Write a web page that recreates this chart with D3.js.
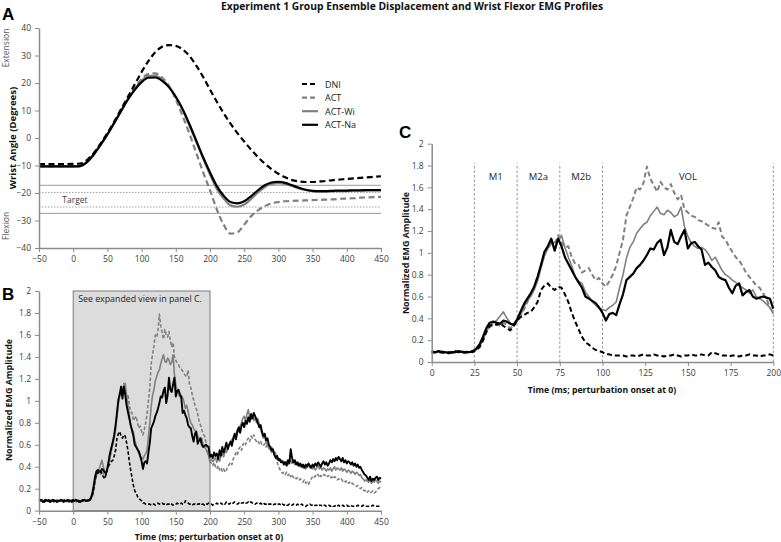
<!DOCTYPE html>
<html><head><meta charset="utf-8">
<script src="https://cdn.jsdelivr.net/npm/d3@7"></script>
<style>body{margin:0;background:#fff} svg{display:block} text{font-family:'Open Sans',sans-serif}</style>
</head><body><svg id="c" width="781" height="542"></svg>
<script>
// ---------- DATA ----------
const seriesNames = ["DNI", "ACT", "ACT-Wi", "ACT-Na"];

// Panel A: wrist angle (deg), sampled every 10 ms from -50 to 450
const angleTime = d3.range(-50, 451, 10);
const angleDNI = [-9.5,-9.5,-9.5,-9.5,-9.5,-9.4,-9.3,-8.0,-5.5,-2.0,
  1.8,6.0,10.5,15.0,19.5,24.0,28.0,31.2,33.2,33.8,
  33.5,32.2,29.8,26.3,22.2,17.6,13.2,9.0,5.2,1.8,
  -1.3,-4.2,-6.9,-9.3,-11.3,-13.0,-14.3,-15.3,-15.8,-16.0,
  -16.0,-15.8,-15.6,-15.3,-15.1,-14.9,-14.7,-14.5,-14.3,-14.1,-13.9];
const angleACT = [-10.3,-10.3,-10.3,-10.3,-10.3,-10.3,-10.2,-8.8,-6.0,-2.5,
  1.3,5.6,10.0,14.3,18.2,21.5,23.3,23.5,22.0,19.0,
  14.0,8.0,1.5,-5.5,-12.5,-19.0,-26.0,-31.5,-34.8,-34.3,
  -31.5,-28.5,-26.3,-24.8,-23.8,-23.3,-23.0,-22.9,-22.8,-22.7,
  -22.6,-22.5,-22.4,-22.3,-22.1,-22.0,-21.9,-21.7,-21.6,-21.5,-21.4];
const angleACTWi = [-10.3,-10.3,-10.3,-10.3,-10.3,-10.3,-10.2,-8.8,-6.0,-2.5,
  1.3,5.5,9.8,14.0,17.7,20.8,22.6,22.7,21.2,18.6,
  14.8,10.2,4.5,-1.5,-7.5,-13.3,-18.5,-22.0,-24.5,-25.0,
  -24.2,-22.2,-19.8,-17.8,-16.7,-16.4,-16.7,-17.4,-18.3,-18.9,
  -19.3,-19.5,-19.5,-19.4,-19.3,-19.3,-19.2,-19.2,-19.1,-19.1,-19.1];
const angleACTNa = [-10.3,-10.3,-10.3,-10.3,-10.3,-10.3,-10.2,-8.8,-6.0,-2.5,
  1.3,5.5,9.8,14.0,17.5,20.3,21.9,22.0,20.8,18.5,
  15.0,10.5,5.0,-1.0,-7.0,-12.5,-17.5,-21.0,-23.3,-23.8,
  -23.0,-21.2,-19.0,-17.2,-16.2,-15.9,-16.3,-17.2,-18.1,-18.8,
  -19.2,-19.3,-19.3,-19.2,-19.1,-19.1,-19.0,-19.0,-18.9,-18.9,-18.9];
const targetOuter = [-17.2, -27.4];
const targetInner = [-19.8, -25.1];
const angleTicksX = d3.range(-50, 451, 50);
const angleTicksY = d3.range(-40, 41, 10);

// Panels B & C: normalized EMG, sampled every 2 ms from -50 to 450
const emgTime = d3.range(-50, 451, 2);
const emgDNI = [
 .09,.09,.10,.09,.08,.09,.09,.10,.09,.09,
 .08,.09,.09,.10,.09,.09,.08,.09,.09,.10,
 .09,.09,.08,.09,.09,.10,.09,.09,.09,.08,
 .09,.09,.10,.09,.09,.09,.10,.09,.11,.14,
 .20,.28,.33,.35,.34,.36,.33,.31,.29,.33,
 .38,.41,.43,.45,.46,.50,.55,.66,.70,.72,
 .68,.66,.69,.68,.62,.55,.45,.37,.30,.23,
 .18,.16,.13,.11,.10,.09,.07,.07,.06,.06,
 .06,.06,.05,.06,.06,.05,.06,.07,.06,.06,
 .07,.06,.06,.05,.06,.06,.07,.06,.05,.06,
 .06,.07,.06,.06,.07,.06,.06,.09,.08,.07,
 .06,.06,.05,.06,.06,.05,.06,.06,.07,.06,
 .06,.05,.06,.06,.07,.06,.06,.05,.06,.06,
 .07,.06,.06,.07,.06,.07,.06,.08,.07,.06,
 .07,.06,.07,.08,.07,.06,.07,.08,.07,.07,
 .08,.07,.07,.08,.07,.08,.07,.07,.06,.07,
 .07,.06,.07,.06,.07,.06,.06,.07,.06,.06,
 .06,.05,.06,.06,.05,.06,.06,.05,.06,.05,
 .06,.05,.05,.06,.05,.05,.06,.05,.05,.06,
 .05,.05,.06,.05,.05,.04,.05,.05,.06,.05,
 .05,.04,.05,.05,.04,.05,.05,.04,.05,.05,
 .04,.05,.05,.04,.05,.04,.04,.05,.04,.05,
 .04,.04,.05,.04,.04,.05,.04,.04,.05,.04,
 .04,.04,.04,.05,.04,.04,.04,.05,.04,.04,
 .04,.04,.04,.04,.05,.04,.04,.04,.04,.04,
 .04];
const emgACT = [
 .09,.10,.09,.09,.10,.08,.09,.09,.10,.09,
 .09,.08,.09,.10,.09,.09,.08,.09,.10,.09,
 .09,.09,.08,.09,.10,.09,.09,.08,.09,.10,
 .09,.09,.10,.09,.09,.08,.09,.10,.11,.13,
 .19,.27,.32,.34,.35,.33,.36,.34,.31,.33,
 .38,.42,.48,.55,.62,.68,.78,.88,.98,1.06,
 1.10,1.08,1.16,1.10,1.05,1.06,.96,.90,.89,.82,
 .84,.86,.80,.75,.77,.72,.69,.74,.80,.88,
 1.00,1.12,1.34,1.42,1.50,1.60,1.58,1.64,1.79,1.68,
 1.62,1.56,1.65,1.60,1.58,1.63,1.55,1.49,1.53,1.40,
 1.37,1.34,1.33,1.30,1.29,1.27,1.25,1.23,1.22,1.28,
 1.15,1.12,1.06,1.01,.96,.93,.88,.82,.78,.74,
 .70,.68,.63,.58,.50,.45,.43,.41,.44,.40,
 .38,.41,.37,.39,.36,.38,.35,.37,.40,.42,
 .44,.42,.47,.50,.53,.51,.56,.58,.55,.60,
 .62,.60,.64,.66,.63,.68,.66,.69,.65,.63,
 .64,.61,.63,.60,.59,.61,.58,.60,.57,.56,
 .58,.55,.54,.52,.45,.40,.38,.36,.34,.35,
 .33,.35,.32,.34,.31,.33,.30,.31,.29,.30,
 .28,.29,.27,.26,.28,.25,.26,.24,.27,.29,
 .31,.30,.32,.31,.33,.30,.32,.31,.33,.32,
 .33,.31,.32,.30,.31,.29,.31,.30,.28,.29,
 .28,.29,.27,.28,.26,.27,.25,.26,.24,.25,
 .24,.23,.22,.23,.21,.20,.21,.19,.18,.19,
 .17,.18,.16,.17,.18,.16,.17,.19,.20,.21,
 .22];
const emgACTWi = [
 .09,.09,.10,.09,.08,.09,.09,.10,.09,.08,
 .09,.10,.09,.09,.08,.09,.09,.10,.09,.09,
 .08,.09,.10,.09,.09,.08,.09,.09,.10,.09,
 .09,.08,.09,.09,.10,.09,.09,.09,.11,.14,
 .20,.28,.33,.36,.38,.42,.46,.40,.36,.33,
 .37,.43,.50,.56,.60,.66,.74,.86,.97,1.04,
 1.08,1.10,1.12,1.16,1.05,.96,.88,.78,.74,.72,
 .64,.60,.55,.52,.49,.48,.47,.50,.52,.55,
 .68,.80,.95,1.05,1.10,1.18,1.22,1.26,1.28,1.34,
 1.38,1.42,1.36,1.35,1.39,1.37,1.33,1.35,1.42,1.24,
 1.15,1.09,1.06,1.04,1.05,1.03,.99,.93,.96,.90,
 .84,.80,.78,.75,.73,.70,.68,.66,.63,.66,
 .60,.58,.56,.53,.50,.44,.47,.45,.46,.49,
 .44,.48,.45,.50,.52,.49,.55,.53,.58,.60,
 .62,.65,.63,.68,.70,.74,.72,.77,.80,.84,
 .86,.82,.88,.92,.85,.83,.86,.82,.85,.80,
 .84,.78,.74,.70,.66,.68,.62,.60,.57,.56,
 .53,.55,.51,.50,.47,.48,.45,.46,.44,.45,
 .43,.45,.42,.44,.46,.43,.45,.42,.44,.41,
 .43,.40,.42,.39,.41,.38,.40,.42,.39,.41,
 .38,.40,.37,.39,.41,.38,.40,.37,.39,.38,
 .36,.38,.37,.39,.36,.38,.40,.37,.39,.38,
 .37,.39,.36,.38,.37,.35,.37,.36,.34,.36,
 .35,.33,.35,.34,.32,.33,.30,.29,.27,.28,
 .27,.26,.28,.25,.27,.26,.28,.27,.25,.27,
 .26];
const emgACTNa = [
 .09,.10,.09,.08,.09,.10,.09,.09,.08,.09,
 .10,.09,.09,.08,.09,.09,.10,.09,.08,.09,
 .09,.10,.09,.09,.08,.09,.09,.10,.09,.09,
 .08,.09,.09,.10,.09,.09,.09,.10,.12,.16,
 .23,.31,.36,.37,.36,.35,.38,.37,.35,.34,
 .39,.46,.53,.58,.63,.69,.78,.89,1.01,1.06,
 1.13,1.02,1.13,1.06,.96,.90,.84,.78,.73,.68,
 .60,.58,.56,.54,.50,.45,.38,.44,.45,.43,
 .53,.62,.75,.78,.81,.86,.89,.93,.98,1.04,
 1.03,1.09,1.12,.98,1.05,1.21,1.10,1.08,1.15,1.21,
 1.04,1.09,1.10,1.06,1.03,.89,.91,.87,.84,.78,
 .76,.75,.68,.63,.70,.72,.61,.64,.66,.60,
 .58,.59,.60,.59,.58,.49,.51,.48,.53,.50,
 .52,.47,.55,.50,.58,.53,.57,.62,.56,.60,
 .63,.59,.66,.70,.65,.72,.76,.71,.77,.80,
 .76,.82,.79,.85,.81,.88,.84,.89,.86,.83,
 .80,.76,.78,.72,.68,.70,.64,.66,.60,.58,
 .55,.56,.51,.48,.50,.46,.47,.44,.45,.42,
 .44,.41,.46,.43,.56,.48,.44,.46,.42,.44,
 .41,.43,.40,.42,.39,.42,.40,.43,.41,.39,
 .42,.40,.43,.41,.44,.42,.40,.43,.45,.42,
 .44,.41,.43,.46,.44,.47,.45,.48,.46,.49,
 .47,.45,.48,.44,.46,.43,.45,.44,.42,.44,
 .41,.43,.40,.42,.39,.40,.37,.35,.33,.32,
 .30,.28,.31,.27,.29,.28,.30,.31,.28,.30,
 .29];
const emgTicksY = d3.range(0, 2.01, 0.2);
const zoomWindow = [0, 200];
const zoomTicksX = d3.range(0, 201, 25);
const phaseBounds = [25, 50, 75, 100, 200];
const phaseLabels = [["M1", 37.5], ["M2a", 62.5], ["M2b", 87.5], ["VOL", 150]];

// ---------- DRAWING ----------
const svg = d3.select("#c");
const GRAY = "#808080", AX = "#8c8c8c", TXT = "#3c3c3c";
const style = {
  "DNI":    {c:"#000", d:true},
  "ACT":    {c:GRAY,  d:true},
  "ACT-Wi": {c:GRAY,  d:false},
  "ACT-Na": {c:"#000", d:false}
};
const drawOrder = ["ACT", "ACT-Wi", "ACT-Na", "DNI"];
const angleData = {"DNI":angleDNI, "ACT":angleACT, "ACT-Wi":angleACTWi, "ACT-Na":angleACTNa};
const emgData = {"DNI":emgDNI, "ACT":emgACT, "ACT-Wi":emgACTWi, "ACT-Na":emgACTNa};

function fmt(v){ return (Math.round(v*10)/10).toString(); }

function styleAxis(g){
  g.select(".domain").attr("stroke", AX).attr("stroke-width", 1.5);
  g.selectAll(".tick line").attr("stroke", AX).attr("stroke-width", 1);
  g.selectAll(".tick text").attr("fill", TXT).style("font-size", "8.5px");
}

// ----- Panel A -----
const xA = d3.scaleLinear().domain([-50, 450]).range([39, 381]);
const yA = d3.scaleLinear().domain([-40, 40]).range([248, 28]);
const gA = svg.append("g");
targetOuter.forEach(v => gA.append("line").attr("x1", xA(-50)).attr("x2", xA(450))
  .attr("y1", yA(v)).attr("y2", yA(v)).attr("stroke", "#9a9a9a").attr("stroke-width", 1));
targetInner.forEach(v => gA.append("line").attr("x1", xA(-50)).attr("x2", xA(450))
  .attr("y1", yA(v)).attr("y2", yA(v)).attr("stroke", "#8a8a8a").attr("stroke-width", 0.8)
  .attr("stroke-dasharray", "1.5,1.5"));
gA.append("text").attr("x", xA(-16)).attr("y", yA(-22.5)+3).text("Target")
  .attr("fill", TXT).style("font-size", "8.5px");

const lineA = d3.line().x((d,i) => xA(angleTime[i])).y(d => yA(d)).curve(d3.curveMonotoneX);
drawOrder.forEach(n => {
  gA.append("path").attr("d", lineA(angleData[n])).attr("fill", "none")
    .attr("stroke", style[n].c).attr("stroke-width", 2.2)
    .attr("stroke-dasharray", style[n].d ? "6,3.5" : null);
});
gA.append("g").attr("transform", `translate(0,${yA(-40)})`)
  .call(d3.axisBottom(xA).tickValues(angleTicksX).tickSize(4).tickSizeOuter(0).tickPadding(4)).call(styleAxis);
gA.append("g").attr("transform", `translate(${xA(-50)},0)`)
  .call(d3.axisLeft(yA).tickValues(angleTicksY).tickSize(4).tickSizeOuter(0).tickPadding(4)).call(styleAxis);

// legend
seriesNames.forEach((n, i) => {
  const y = 84 + i*13.6;
  svg.append("line").attr("x1", 302).attr("x2", 318).attr("y1", y).attr("y2", y)
    .attr("stroke", style[n].c).attr("stroke-width", 2.2)
    .attr("stroke-dasharray", style[n].d ? "5,3" : null);
  svg.append("text").attr("x", 325).attr("y", y+3.5).text(n).attr("fill", "#222").style("font-size", "9px");
});

// axis labels A
svg.append("text").attr("transform", "translate(16,138) rotate(-90)").attr("text-anchor", "middle")
  .style("font-size", "9.6px").style("font-weight", "bold").attr("fill", "#111").text("Wrist Angle (Degrees)");
svg.append("text").attr("transform", "translate(9,48) rotate(-90)").attr("text-anchor", "middle")
  .style("font-size", "8.5px").attr("fill", "#555").text("Extension");
svg.append("text").attr("transform", "translate(9,226) rotate(-90)").attr("text-anchor", "middle")
  .style("font-size", "8.5px").attr("fill", "#555").text("Flexion");

// ----- Panel B -----
const xB = d3.scaleLinear().domain([-50, 450]).range([39, 381]);
const yB = d3.scaleLinear().domain([0, 2]).range([510.7, 291]);
const gB = svg.append("g");
gB.append("rect").attr("x", xB(0)).attr("y", yB(2)).attr("width", xB(200)-xB(0)).attr("height", yB(0)-yB(2))
  .attr("fill", "#dcdcdc").attr("stroke", "#7a7a7a").attr("stroke-width", 1);
gB.append("text").attr("x", xB(0)+5).attr("y", yB(2)+11).text("See expanded view in panel C.")
  .attr("fill", "#222").style("font-size", "8.8px");
const lineB = d3.line().x((d,i) => xB(emgTime[i])).y(d => yB(d));
drawOrder.forEach(n => {
  gB.append("path").attr("d", lineB(emgData[n])).attr("fill", "none")
    .attr("stroke", style[n].c).attr("stroke-width", n==="ACT-Na" ? 1.9 : 1.6)
    .attr("stroke-dasharray", style[n].d ? "3.5,2" : null).attr("stroke-linejoin", "round");
});
gB.append("g").attr("transform", `translate(0,${yB(0)})`)
  .call(d3.axisBottom(xB).tickValues(angleTicksX).tickSize(4).tickSizeOuter(0).tickPadding(4)).call(styleAxis);
gB.append("g").attr("transform", `translate(${xB(-50)},0)`)
  .call(d3.axisLeft(yB).tickValues(emgTicksY).tickFormat(fmt).tickSize(4).tickSizeOuter(0).tickPadding(4)).call(styleAxis);
svg.append("text").attr("transform", "translate(12,400) rotate(-90)").attr("text-anchor", "middle")
  .style("font-size", "8.9px").style("font-weight", "bold").attr("fill", "#111").text("Normalized EMG Amplitude");
svg.append("text").attr("x", 209).attr("y", 540).attr("text-anchor", "middle")
  .style("font-size", "8.7px").style("font-weight", "bold").attr("fill", "#111").text("Time (ms; perturbation onset at 0)");

// ----- Panel C -----
const xC = d3.scaleLinear().domain(zoomWindow).range([431.7, 773.3]);
const yC = d3.scaleLinear().domain([0, 2]).range([362, 143.7]);
const gC = svg.append("g");
phaseBounds.forEach(t => gC.append("line").attr("x1", xC(t)).attr("x2", xC(t))
  .attr("y1", yC(0)).attr("y2", yC(1.82)).attr("stroke", "#8a8a8a").attr("stroke-width", 0.9)
  .attr("stroke-dasharray", "2.5,2"));
phaseLabels.forEach(([n, t]) => gC.append("text").attr("x", xC(t)).attr("y", yC(1.7)+4)
  .attr("text-anchor", "middle").text(n).attr("fill", "#222").style("font-size", "9.5px"));
const idxC = emgTime.map((t,i) => i).filter(i => emgTime[i] >= zoomWindow[0] && emgTime[i] <= zoomWindow[1]);
const lineC = d3.line().x(i => xC(emgTime[i]));
drawOrder.forEach(n => {
  gC.append("path").attr("d", lineC.y(i => yC(emgData[n][i]))(idxC)).attr("fill", "none")
    .attr("stroke", style[n].c).attr("stroke-width", n==="ACT-Na" ? 2.2 : (n==="ACT-Wi" ? 1.6 : 2))
    .attr("stroke-dasharray", style[n].d ? "5,3" : null).attr("stroke-linejoin", "round");
});
gC.append("g").attr("transform", `translate(0,${yC(0)})`)
  .call(d3.axisBottom(xC).tickValues(zoomTicksX).tickSize(4).tickSizeOuter(0).tickPadding(4)).call(styleAxis);
gC.append("g").attr("transform", `translate(${xC(0)},0)`)
  .call(d3.axisLeft(yC).tickValues(emgTicksY).tickFormat(fmt).tickSize(4).tickSizeOuter(0).tickPadding(4)).call(styleAxis);
svg.append("text").attr("transform", "translate(409,253) rotate(-90)").attr("text-anchor", "middle")
  .style("font-size", "8.9px").style("font-weight", "bold").attr("fill", "#111").text("Normalized EMG Amplitude");
svg.append("text").attr("x", 602).attr("y", 393).attr("text-anchor", "middle")
  .style("font-size", "8.7px").style("font-weight", "bold").attr("fill", "#111").text("Time (ms; perturbation onset at 0)");

// ----- Titles & panel letters -----
svg.append("text").attr("x", 412).attr("y", 10).attr("text-anchor", "middle")
  .style("font-size", "10.3px").style("font-weight", "bold").attr("fill", "#111")
  .text("Experiment 1 Group Ensemble Displacement and Wrist Flexor EMG Profiles");
[["A", 2, 20], ["B", 2, 300], ["C", 399, 138]].forEach(([l, x, y]) =>
  svg.append("text").attr("x", x).attr("y", y).text(l).style("font-size", "17px")
    .style("font-weight", "bold").style("font-family", "'Liberation Sans', Arial, sans-serif").attr("fill", "#000"));
</script></body></html>
